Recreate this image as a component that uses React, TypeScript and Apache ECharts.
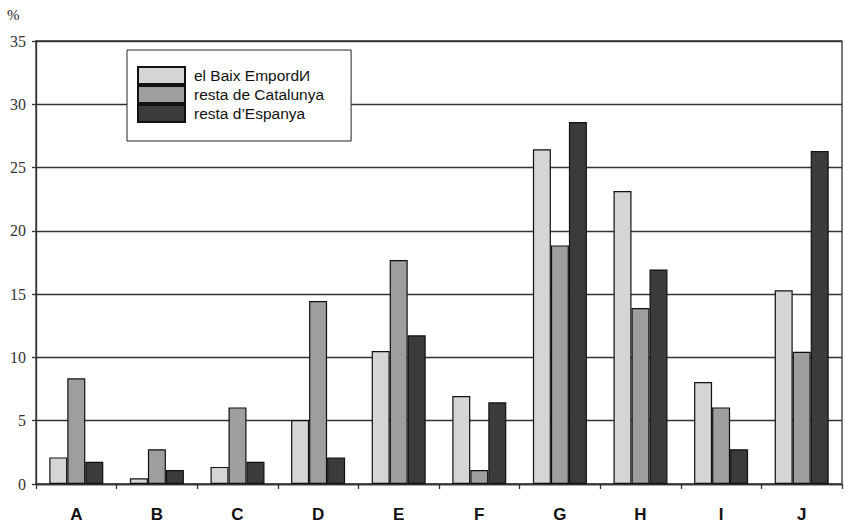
import React, { useEffect, useRef } from "react";
import * as echarts from "echarts";

const categories = ["A", "B", "C", "D", "E", "F", "G", "H", "I", "J"];
const seriesNames = ["el Baix EmpordИ", "resta de Catalunya", "resta d\u2019Espanya"];
const baixEmporda = [2.1, 0.45, 1.35, 5.05, 10.5, 6.95, 26.45, 23.15, 8.05, 15.3];
const restaCatalunya = [8.35, 2.75, 6.05, 14.45, 17.7, 1.1, 18.85, 13.9, 6.05, 10.45];
const restaEspanya = [1.75, 1.1, 1.75, 2.1, 11.75, 6.45, 28.6, 16.95, 2.75, 26.3];
const yTicks = { min: 0, max: 35, interval: 5 };
const colors = ["#d5d5d5", "#9e9e9e", "#3b3b3b"];

export default function App() {
  const ref = useRef<HTMLDivElement>(null);
  useEffect(() => {
    if (!ref.current) return;
    const chart = echarts.init(ref.current, null, { renderer: "svg" });
    const data = [baixEmporda, restaCatalunya, restaEspanya];
    chart.setOption({
      animation: false,
      backgroundColor: "#ffffff",
      grid: {
        left: 36,
        right: 3,
        top: 41,
        bottom: 40,
        show: true,
        borderColor: "#333",
        borderWidth: 1.3,
      },
      graphic: [
        {
          type: "text",
          left: 7,
          top: 7,
          style: { text: "%", fontFamily: "Liberation Serif", fontSize: 15, fill: "#222" },
        },
      ],
      legend: {
        orient: "vertical",
        left: 127,
        top: 50,
        itemWidth: 47,
        itemHeight: 17,
        itemGap: 0,
        padding: [16, 27, 18, 10],
        backgroundColor: "#ffffff",
        borderColor: "#222",
        borderWidth: 1,
        borderRadius: 0,
        icon: "rect",
        data: seriesNames,
        textStyle: {
          fontFamily: "Liberation Sans",
          fontSize: 15.5,
          lineHeight: 17,
          color: "#111",
          padding: [0, 0, 0, 4],
        },
      },
      xAxis: {
        type: "category",
        data: categories,
        axisLine: { lineStyle: { color: "#333", width: 1.3 } },
        axisTick: { show: true, length: 5, lineStyle: { color: "#333", width: 1.3 } },
        axisLabel: {
          margin: 22,
          fontFamily: "Liberation Sans",
          fontWeight: "bold",
          fontSize: 17,
          color: "#111",
        },
      },
      yAxis: {
        type: "value",
        min: yTicks.min,
        max: yTicks.max,
        interval: yTicks.interval,
        axisLine: { show: true, lineStyle: { color: "#333", width: 1.3 } },
        axisTick: { show: true, length: 4, lineStyle: { color: "#333", width: 1.3 } },
        axisLabel: {
          margin: 10,
          fontFamily: "Liberation Serif",
          fontSize: 16,
          color: "#333",
        },
        splitLine: { show: true, lineStyle: { color: "#333", width: 1.3 } },
      },
      series: seriesNames.map((name, i) => ({
        name,
        type: "bar",
        data: data[i],
        barWidth: 18,
        barGap: "0%",
        itemStyle: { color: colors[i], borderColor: "#111", borderWidth: 1.2 },
      })),
    });
    return () => chart.dispose();
  }, []);
  return <div ref={ref} style={{ width: 845, height: 524, position: "absolute", left: 0, top: 0 }} />;
}
